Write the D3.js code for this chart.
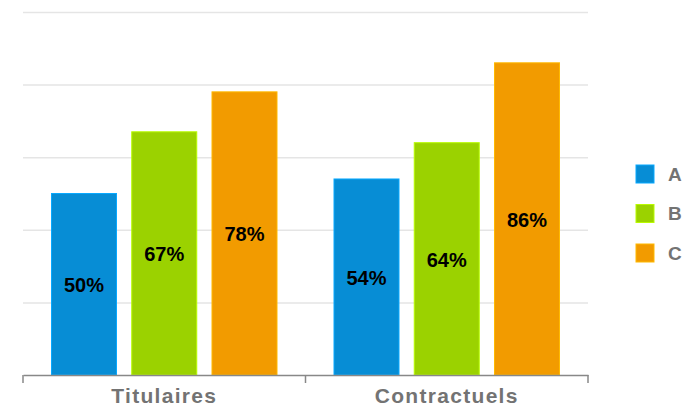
<!DOCTYPE html>
<html>
<head>
<meta charset="utf-8">
<script src="https://cdn.jsdelivr.net/npm/d3@7"></script>
<style>
  body { margin: 0; background: #fff; }
  svg { display: block; }
</style>
</head>
<body>
<div id="chart"></div>
<script>
// data
const categories = ["Titulaires", "Contractuels"];
const seriesNames = ["A", "B", "C"];
const valuesA = [50, 54];
const valuesB = [67, 64];
const valuesC = [78, 86];
const gridTicks = [20, 40, 60, 80, 100];

const colors = { A: "#078dd5", B: "#9bd200", C: "#f29b00" };
const values = { A: valuesA, B: valuesB, C: valuesC };

let width = 684, height = 409;
let plotLeft = 23, plotRight = 588, plotTop = 12, plotBottom = 375;

let svg = d3.select("#chart").append("svg")
    .attr("width", width).attr("height", height);

let y = d3.scaleLinear().domain([0, 100]).range([plotBottom, plotTop]);
let x0 = d3.scaleBand().domain(categories).range([plotLeft, plotRight]).padding(0);
let x1 = d3.scaleBand().domain(seriesNames)
    .range([28.5, x0.bandwidth() - 28.5])
    .paddingInner(0.19).paddingOuter(0);

// gridlines
svg.append("g")
    .attr("transform", "translate(" + plotLeft + ",0)")
    .call(d3.axisLeft(y).tickValues(gridTicks).tickSize(-(plotRight - plotLeft)).tickFormat(""))
    .call(g => g.select(".domain").remove())
    .call(g => g.selectAll("line").attr("stroke", "#e5e5e5").attr("stroke-width", 1.5));

// bars
let groups = svg.append("g").selectAll("g")
    .data(categories)
    .join("g")
    .attr("transform", d => "translate(" + x0(d) + ",0)");

groups.selectAll("rect")
    .data((c, i) => seriesNames.map(s => ({ s: s, v: values[s][i] })))
    .join("rect")
    .attr("x", d => x1(d.s))
    .attr("y", d => y(d.v))
    .attr("width", x1.bandwidth())
    .attr("height", d => y(0) - y(d.v))
    .attr("fill", d => colors[d.s])
    .attr("stroke", d => d3.color(colors[d.s]).brighter(0.5))
    .attr("stroke-width", 1);

groups.selectAll("text")
    .data((c, i) => seriesNames.map(s => ({ s: s, v: values[s][i] })))
    .join("text")
    .attr("x", d => x1(d.s) + x1.bandwidth() / 2)
    .attr("y", d => (y(d.v) + y(0)) / 2)
    .attr("dy", "0.4em")
    .attr("text-anchor", "middle")
    .style("font-family", "'Liberation Sans', Arial, sans-serif")
    .style("font-weight", "bold")
    .style("font-size", "20px")
    .attr("fill", "#000")
    .text(d => d.v + "%");

// x axis
let xAxis = svg.append("g")
    .attr("transform", "translate(0," + plotBottom + ")")
    .call(d3.axisBottom(x0).tickSize(0).tickSizeOuter(0).tickPadding(13));
xAxis.select(".domain").attr("stroke", "#888").attr("stroke-width", 1.5);
xAxis.selectAll("text")
    .style("font-family", "'Liberation Sans', Arial, sans-serif")
    .style("font-weight", "bold")
    .style("font-size", "21px")
    .style("letter-spacing", "1.3px")
    .attr("fill", "#737373");

let bounds = categories.map(c => x0(c)).concat([x0(categories[categories.length - 1]) + x0.bandwidth()]);
xAxis.selectAll(".sep")
    .data(bounds)
    .join("line")
    .attr("class", "sep")
    .attr("x1", d => d).attr("x2", d => d)
    .attr("y1", 0).attr("y2", 8)
    .attr("stroke", "#888").attr("stroke-width", 1.5);

// legend
let legend = svg.append("g").attr("transform", "translate(636,165)");
let items = legend.selectAll("g")
    .data(seriesNames)
    .join("g")
    .attr("transform", (d, i) => "translate(0," + i * 39.5 + ")");
items.append("rect")
    .attr("width", 18).attr("height", 18)
    .attr("fill", d => colors[d])
    .attr("stroke", d => d3.color(colors[d]).brighter(0.5));
items.append("text")
    .attr("x", 32).attr("y", 9).attr("dy", "0.36em")
    .style("font-family", "'Liberation Sans', Arial, sans-serif")
    .style("font-weight", "bold")
    .style("font-size", "19px")
    .attr("fill", "#737373")
    .text(d => d);
</script>
</body>
</html>
